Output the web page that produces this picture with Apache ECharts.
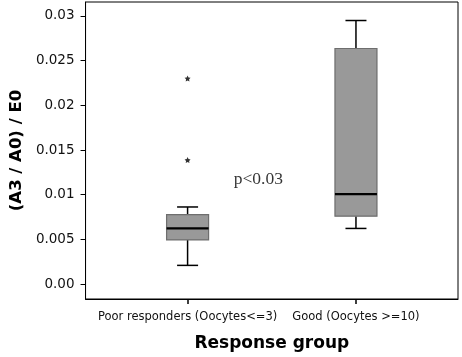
<!DOCTYPE html>
<html>
<head>
<meta charset="utf-8">
<script src="https://cdn.jsdelivr.net/npm/echarts@6/dist/echarts.min.js"></script>
<style>
html, body { margin: 0; padding: 0; background: #fff; }
#chart { width: 462px; height: 357px; }
</style>
</head>
<body>
<div id="chart"></div>
<script>
// groups and box statistics: [x, min, Q1, median, Q3, max]
var groupNames = ['Poor responders (Oocytes<=3)', 'Good (Oocytes >=10)'];
var groupPos = [1, 2];
var boxStats = [
	[1, 0.0021, 0.00495, 0.00623, 0.00778, 0.00863],
	[2, 0.00623, 0.0076, 0.01007, 0.02635, 0.02948]
];
var outliers = [[1, 0.02299], [1, 0.01387]];
var yTicks = [0, 0.005, 0.01, 0.015, 0.02, 0.025, 0.03];
var note = [[1.42, 0.0117]];

var chart = echarts.init(document.getElementById('chart'));

var renderBox = function(params, api) {
	var x = api.value(0);
	var pMin = api.coord([x, api.value(1)]);
	var pQ1 = api.coord([x, api.value(2)]);
	var pMed = api.coord([x, api.value(3)]);
	var pQ3 = api.coord([x, api.value(4)]);
	var pMax = api.coord([x, api.value(5)]);
	var hw = 21, cw = 10.5;
	var line = { stroke: '#000', lineWidth: 1.5 };
	return {
		type: 'group',
		children: [
			{ type: 'line', shape: { x1: pMin[0], y1: pMin[1], x2: pQ1[0], y2: pQ1[1] }, style: line },
			{ type: 'line', shape: { x1: pQ3[0], y1: pQ3[1], x2: pMax[0], y2: pMax[1] }, style: line },
			{ type: 'line', shape: { x1: pMin[0] - cw, y1: pMin[1], x2: pMin[0] + cw, y2: pMin[1] }, style: line },
			{ type: 'line', shape: { x1: pMax[0] - cw, y1: pMax[1], x2: pMax[0] + cw, y2: pMax[1] }, style: line },
			{ type: 'rect', shape: { x: pQ3[0] - hw, y: pQ3[1], width: hw * 2, height: pQ1[1] - pQ3[1] },
				style: { fill: '#999999', stroke: '#6e6e6e', lineWidth: 1.2 } },
			{ type: 'line', shape: { x1: pMed[0] - hw, y1: pMed[1], x2: pMed[0] + hw, y2: pMed[1] },
				style: { stroke: '#000', lineWidth: 2.2 } }
		]
	};
};

var option = {
	animation: false,
	grid: {
		left: 83, right: 4, top: 2, bottom: 55,
		show: true, borderColor: '#000', borderWidth: 1
	},
	xAxis: {
		type: 'value',
		min: 0.394,
		max: 2.606,
		name: 'Response group',
		nameLocation: 'middle',
		nameGap: 36,
		nameTextStyle: { fontFamily: 'DejaVu Sans', fontWeight: 'bold', fontSize: 17, color: '#000' },
		axisLine: { show: true, onZero: false, lineStyle: { color: '#000', width: 1 } },
		axisTick: { show: true, length: 5, customValues: groupPos, lineStyle: { color: '#000', width: 1.5 } },
		axisLabel: {
			customValues: groupPos,
			margin: 12,
			fontFamily: 'DejaVu Sans',
			fontSize: 11.5,
			color: '#111',
			formatter: function(v) {
				return groupNames[Math.round(v) - 1];
			}
		},
		splitLine: { show: false }
	},
	yAxis: {
		type: 'value',
		min: -0.00166,
		max: 0.03155,
		name: '(A3 / A0) / E0',
		nameLocation: 'middle',
		nameGap: 60,
		nameTextStyle: { fontFamily: 'DejaVu Sans', fontWeight: 'bold', fontSize: 16.5, color: '#000' },
		axisLine: { show: true, onZero: false, lineStyle: { color: '#000', width: 1 } },
		axisTick: { show: true, length: 5, customValues: yTicks, lineStyle: { color: '#000' } },
		axisLabel: {
			customValues: yTicks,
			margin: 11,
			fontFamily: 'DejaVu Sans',
			fontSize: 13.5,
			color: '#111',
			formatter: function(v) {
				return v === 0 ? '0.00' : String(v);
			}
		},
		splitLine: { show: false }
	},
	series: [{
		type: 'custom',
		renderItem: renderBox,
		data: boxStats,
		encode: { x: 0, y: [1, 2, 3, 4, 5] }
	}, {
		type: 'scatter',
		data: outliers,
		symbol: 'path://M0,-10L2.9,-4L9.5,-3.1L4.8,1.5L5.9,8.1L0,5L-5.9,8.1L-4.8,1.5L-9.5,-3.1L-2.9,-4Z',
		symbolSize: 6,
		itemStyle: { color: '#000' }
	}, {
		type: 'scatter',
		data: note,
		symbolSize: 0,
		label: {
			show: true,
			position: 'inside',
			formatter: 'p<0.03',
			fontFamily: 'Liberation Serif',
			fontSize: 17.5,
			color: '#000'
		}
	}]
};

chart.setOption(option);
</script>
</body>
</html>
